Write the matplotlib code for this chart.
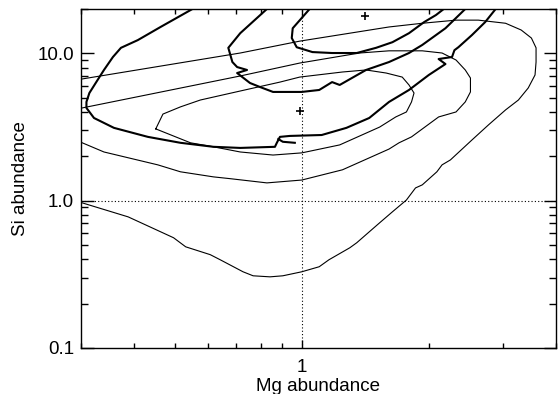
import matplotlib
matplotlib.use("Agg")
import matplotlib.pyplot as plt
from matplotlib.ticker import LogLocator, FixedFormatter, FixedLocator, NullFormatter

plt.rcParams['font.family'] = ['Liberation Sans', 'DejaVu Sans']

# thin contours (open outer, middle, closed inner)
thin1_mg = [0.302, 0.715, 0.989, 1.61, 1.93, 2.32, 2.62, 3.04, 3.31, 3.50, 3.59, 3.59, 3.57, 3.44, 3.26,
            3.04, 2.77, 2.53, 2.25, 2.15, 2.09, 1.93, 1.86, 1.77, 1.64, 1.53, 1.445, 1.35, 1.30, 1.16,
            1.10, 1.00, 0.902, 0.841, 0.767, 0.726, 0.641, 0.607, 0.531, 0.497, 0.388, 0.302]
thin1_si = [6.70, 10.05, 12.1, 15.1, 16.0, 16.8, 16.8, 16.0, 14.4, 12.7, 10.9, 8.73, 7.13, 5.82, 4.82,
            4.13, 3.27, 2.58, 1.89, 1.75, 1.57, 1.28, 1.22, 1.01, 0.84, 0.708, 0.614, 0.518, 0.479, 0.397,
            0.356, 0.329, 0.309, 0.304, 0.309, 0.329, 0.397, 0.430, 0.486, 0.560, 0.776, 0.966]

thin2_mg = [0.302, 0.715, 0.989, 1.37, 1.61, 1.93, 2.15, 2.32, 2.44, 2.51, 2.51, 2.44, 2.32, 2.11,
            1.82, 1.70, 1.61, 1.249, 1.00, 0.827, 0.677, 0.618, 0.516, 0.456, 0.340, 0.302]
thin2_si = [4.26, 7.02, 8.59, 10.05, 10.4, 10.4, 10.05, 9.01, 7.71, 6.80, 5.47, 4.68, 4.00, 3.70,
            2.71, 2.47, 2.24, 1.62, 1.38, 1.32, 1.41, 1.45, 1.57, 1.75, 2.14, 2.47]

thin3_mg = [0.451, 0.469, 0.516, 0.575, 0.715, 0.888, 0.989, 1.249, 1.42, 1.585, 1.73, 1.795, 1.845,
            1.82, 1.77, 1.67, 1.53, 1.23, 1.00, 0.855, 0.715, 0.618, 0.545, 0.451]
thin3_si = [3.07, 3.87, 4.33, 4.82, 5.55, 6.38, 6.90, 7.47, 7.71, 7.35, 6.90, 6.10, 5.38,
            4.68, 4.00, 3.70, 3.16, 2.39, 2.11, 2.04, 2.14, 2.32, 2.47, 3.07]

# thick contours
thick1_mg = [0.551, 0.463, 0.409, 0.373, 0.357, 0.340, 0.326, 0.314, 0.309, 0.309, 0.322, 0.359, 0.432,
             0.516, 0.618, 0.715, 0.864, 0.873, 0.888, 0.937, 1.115, 1.276, 1.445, 1.61, 1.795, 2.00,
             2.19, 2.11, 2.27, 2.30, 2.35, 2.53, 2.72, 2.88]
thick1_si = [20.0, 15.1, 12.3, 10.9, 9.44, 7.71, 6.38, 5.38, 4.68, 4.26, 3.64, 3.12, 2.71,
             2.47, 2.32, 2.28, 2.32, 2.47, 2.71, 2.75, 2.79, 3.12, 3.64, 4.68, 5.64, 7.13,
             8.46, 9.15, 9.44, 10.5, 11.0, 13.3, 16.3, 20.0]
stub_mg = [0.880, 0.902, 0.963]
stub_si = [2.62, 2.51, 2.47]

thick2_mg = [0.827, 0.715, 0.670, 0.685, 0.703, 0.742, 0.703, 0.754, 0.796, 0.855, 1.00, 1.10, 1.18,
             1.23, 1.42, 1.61, 1.795, 1.93, 2.19, 2.44]
thick2_si = [20.0, 13.7, 10.9, 8.73, 8.07, 7.71, 7.35, 6.29, 5.91, 5.47, 5.47, 5.64, 6.38,
             6.10, 7.71, 8.73, 10.05, 11.4, 14.8, 20.0]

thick3_mg = [1.044, 0.952, 0.947, 0.973, 1.06, 1.18, 1.35, 1.50, 1.64, 1.795, 1.95, 2.08, 2.17]
thick3_si = [20.0, 14.8, 12.7, 11.0, 10.2, 10.05, 10.05, 10.9, 11.9, 13.7, 16.3, 18.2, 20.0]

plus_mg = [1.41, 0.989]
plus_si = [17.9, 4.06]

fig = plt.figure(figsize=(5.58, 3.94), dpi=100)
ax = fig.add_axes([0.1452, 0.1168, 0.851, 0.8604])

for xs, ys in [(thin1_mg, thin1_si), (thin2_mg, thin2_si), (thin3_mg, thin3_si)]:
    ax.plot(xs, ys, color='black', lw=0.8)
for xs, ys in [(thick1_mg, thick1_si), (stub_mg, stub_si), (thick2_mg, thick2_si), (thick3_mg, thick3_si)]:
    ax.plot(xs, ys, color='black', lw=1.5)

ax.plot(plus_mg, plus_si, ls='none', marker='+', color='black', ms=6, mew=1.2)

ax.axvline(1.0, color='black', lw=0.8, ls=(0, (1, 2)))
ax.axhline(1.0, color='black', lw=0.8, ls=(0, (1, 2)))

ax.set_xscale('log')
ax.set_yscale('log')
ax.set_xlim(0.3, 4.0)
ax.set_ylim(0.1, 20.0)

ax.xaxis.set_major_locator(FixedLocator([1.0]))
ax.xaxis.set_major_formatter(FixedFormatter(['1']))
ax.xaxis.set_minor_locator(LogLocator(subs=range(2, 10)))
ax.xaxis.set_minor_formatter(NullFormatter())
ax.yaxis.set_major_locator(FixedLocator([0.1, 1.0, 10.0]))
ax.yaxis.set_major_formatter(FixedFormatter(['0.1', '1.0', '10.0']))
ax.yaxis.set_minor_locator(LogLocator(subs=range(2, 10)))
ax.yaxis.set_minor_formatter(NullFormatter())

ax.tick_params(which='both', direction='in', top=True, right=True, labelsize=13.5, width=1.0)
ax.tick_params(axis='y', which='major', length=9, pad=5)
ax.tick_params(axis='y', which='minor', length=5)
ax.tick_params(axis='x', which='major', length=6, pad=8)
ax.tick_params(axis='x', which='minor', length=3.5)
for s in ax.spines.values():
    s.set_linewidth(1.0)

ax.set_xlabel('Mg abundance', fontsize=13.5, labelpad=1.5)
ax.set_ylabel('Si abundance', fontsize=13.5, labelpad=6)

fig.savefig('out.png', dpi=100)
